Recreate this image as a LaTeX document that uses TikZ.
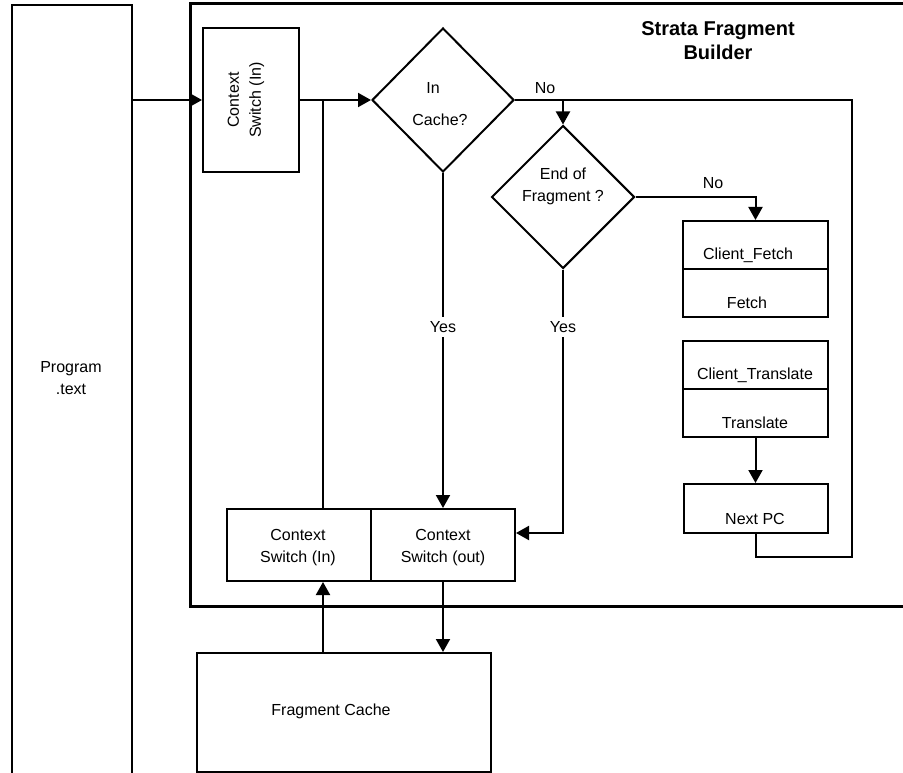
\documentclass[tikz,border=0pt]{standalone}
\usepackage{fontspec}
\setmainfont{Liberation Sans}
\usetikzlibrary{shapes.geometric,arrows.meta}
\begin{document}
\begin{tikzpicture}[x=1pt,y=-1pt,
  line width=2pt,
  box/.style={draw,rectangle,inner sep=0pt,line width=2pt},
  dia/.style={draw,diamond,inner sep=0pt,line width=2pt},
  txt/.style={inner sep=0pt,align=center,font=\fontsize{16}{22}\selectfont},
  arr/.style={-{Triangle[length=13pt,width=14pt]}},
  lbl/.style={fill=white,inner sep=4pt,font=\fontsize{16}{22}\selectfont}]
\useasboundingbox (0,0) rectangle (903,773);
% outer boxes
\node[box,minimum width=120,minimum height=790] (prog) at (72,400) {};
\node[txt] (progt) at (71,378) {Program\\.text};
\node[box,line width=3pt,minimum width=730,minimum height=602] (frame) at (555,305) {};
\node[txt,font=\bfseries\fontsize{20}{24}\selectfont] (title) at (718,41) {Strata Fragment\\Builder};
% context switch (vertical)
\node[box,minimum width=96,minimum height=144] (csv) at (251,100) {};
\node[txt,rotate=90] (csvt) at (246,100) {Context\\Switch (In)};
% diamonds
\node[dia,minimum width=142,minimum height=144] (d1) at (443,100) {};
\node[txt] (d1a) at (433,88) {In};
\node[txt] (d1b) at (440,120) {Cache?};
\node[dia,minimum width=143,minimum height=143] (d2) at (563,197) {};
\node[txt] (d2t) at (563,186) {End of\\Fragment ?};
% right column
\node[box,minimum width=145,minimum height=48] (cf1) at (755.5,245) {};
\node[box,minimum width=145,minimum height=48] (cf2) at (755.5,293) {};
\node[txt] (cf1t) at (748,255) {Client\_Fetch};
\node[txt] (cf2t) at (747,303) {Fetch};
\node[box,minimum width=145,minimum height=48] (ct1) at (755.5,365) {};
\node[box,minimum width=145,minimum height=48] (ct2) at (755.5,413) {};
\node[txt] (ct1t) at (755,375) {Client\_Translate};
\node[txt] (ct2t) at (755,423) {Translate};
\node[box,minimum width=144,minimum height=49] (np) at (755.5,508.5) {};
\node[txt] (npt) at (755,519) {Next PC};
% bottom context switches
\node[box,minimum width=144,minimum height=72] (csin) at (299,545) {};
\node[txt] (csint) at (298,548) {Context\\Switch (In)};
\node[box,minimum width=144,minimum height=72] (csout) at (443,545) {};
\node[txt] (csoutt) at (443,548) {Context\\Switch (out)};
% fragment cache
\node[box,minimum width=294,minimum height=119] (fc) at (344,712.5) {};
\node[txt] (fct) at (331,711) {Fragment Cache};
% connectors
\draw[arr] (prog.east |- csv.west) -- (csv.west);
\draw[arr] (csv.east) -- (d1.west);
\coordinate (j1) at (323,100);
\draw (j1) -- (j1 |- csin.north);
\coordinate (r1) at (852,100);
\coordinate (r2) at (852,557);
\draw (d1.east) -- (r1) -- (r2) -- (r2 -| np.south) -- (np.south);
\draw[arr] (d2.north |- d1.east) -- (d2.north);
\draw[arr] (d2.east) -- (d2.east -| cf1.north) -- (cf1.north);
\draw[arr] (d1.south) -- (csout.north);
\coordinate (e2) at (563,533);
\draw[arr] (d2.south) -- (e2) -- (e2 -| csout.east);
\draw[arr] (ct2.south) -- (np.north);
\draw[arr] (fc.north -| j1) -- (csin.south -| j1);
\draw[arr] (csout.south) -- (csout.south |- fc.north);
% labels
\node[lbl] (y1) at (443,327) {Yes};
\node[lbl] (y2) at (563,327) {Yes};
\node[txt] (no1) at (545,88) {No};
\node[txt] (no2) at (713,183) {No};
\end{tikzpicture}
\end{document}
